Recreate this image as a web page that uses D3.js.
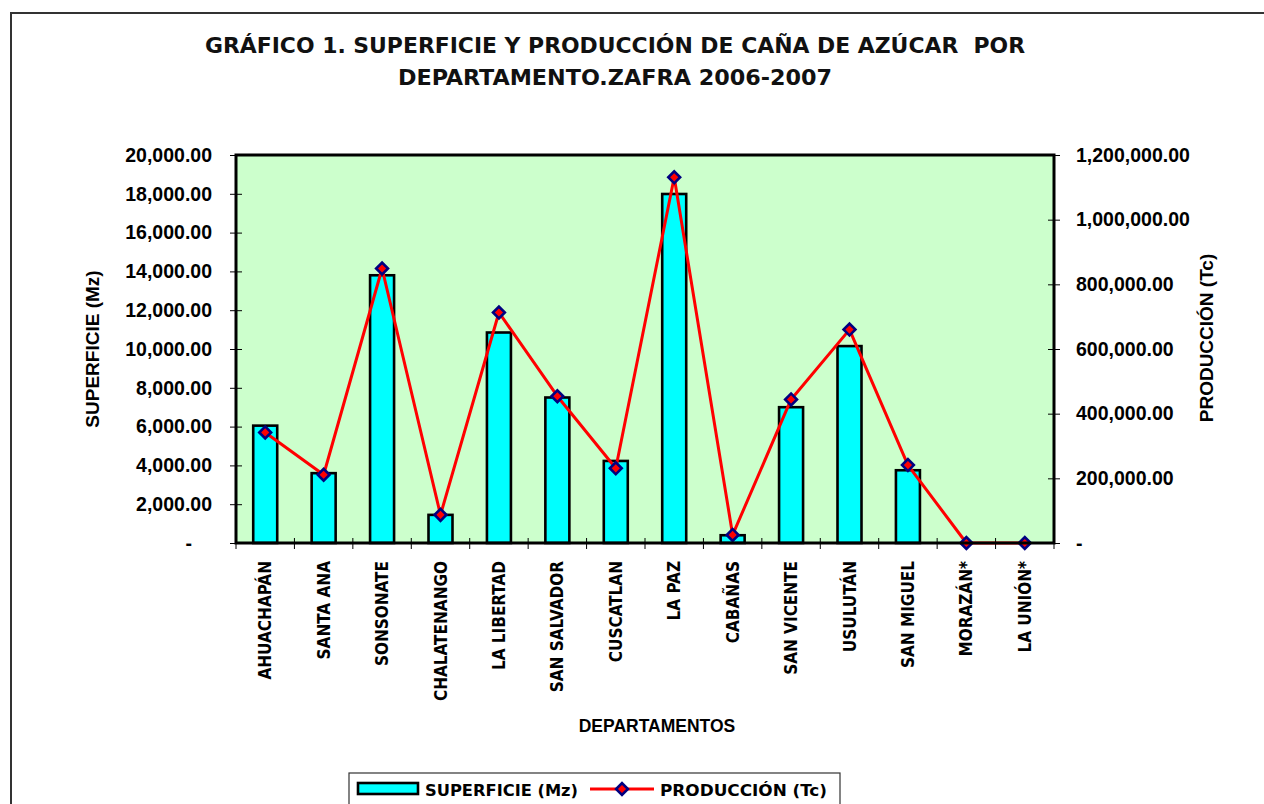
<!DOCTYPE html>
<html lang="es">
<head>
<meta charset="utf-8">
<title>superficie y produccion de cana</title>
<script src="https://d3js.org/d3.v7.min.js"></script>
<style>
body{margin:0;background:#fff;}
svg{display:block;}
</style>
</head>
<body>
<script>
const departamentos = ["AHUACHAPÁN","SANTA ANA","SONSONATE","CHALATENANGO","LA LIBERTAD","SAN SALVADOR","CUSCATLAN","LA PAZ","CABAÑAS","SAN VICENTE","USULUTÁN","SAN MIGUEL","MORAZÁN*","LA UNIÓN*"];
const superficie = [6050, 3600, 13800, 1450, 10850, 7500, 4230, 17990, 400, 7000, 10150, 3750, 0, 0];
const produccion = [342000, 211000, 849000, 87000, 713000, 454000, 231000, 1131000, 25000, 444000, 660000, 241000, 0, 0];
const supTicks = [0, 2000, 4000, 6000, 8000, 10000, 12000, 14000, 16000, 18000, 20000];
const prodTicks = [0, 200000, 400000, 600000, 800000, 1000000, 1200000];
const titleLines = ["GRÁFICO 1. SUPERFICIE Y PRODUCCIÓN DE CAÑA DE AZÚCAR  POR", "DEPARTAMENTO.ZAFRA 2006-2007"];

const W = 1264, H = 804;
const pLeft = 236, pRight = 1054, pTop = 155, pBottom = 543;
const arial = "'Liberation Sans', Arial, sans-serif";
const tahoma = "'DejaVu Sans Condensed', 'DejaVu Sans', sans-serif";

let svg = d3.select("body").append("svg").attr("width", W).attr("height", H);

// outer chart frame (runs past the window)
svg.append("rect").attr("x", 11).attr("y", 13).attr("width", 1400).attr("height", 1000)
  .attr("fill", "#fff").attr("stroke", "#333").attr("stroke-width", 2);

// title
titleLines.forEach((t, i) => {
  svg.append("text").attr("x", 615).attr("y", 53 + i * 32)
    .attr("text-anchor", "middle").style("white-space", "pre")
    .attr("font-family", tahoma).attr("font-weight", "bold").attr("font-size", 21)
    .attr("textLength", i == 0 ? 820 : 434).attr("lengthAdjust", "spacingAndGlyphs")
    .attr("fill", "#111").text(t);
});

let x = d3.scaleBand().domain(departamentos).range([pLeft, pRight]);
let yL = d3.scaleLinear().domain([0, 20000]).range([pBottom, pTop]);
let yR = d3.scaleLinear().domain([0, 1200000]).range([pBottom, pTop]);

const fmt = d => d == 0 ? "-" : d3.format(",.2f")(d);

// plot area
svg.append("rect").attr("x", pLeft).attr("y", pTop).attr("width", pRight - pLeft).attr("height", pBottom - pTop)
  .attr("fill", "#CCFFCC");

// bars
const bw = 24;
svg.append("g").selectAll("rect").data(departamentos).join("rect")
  .attr("x", d => x(d) + x.bandwidth() / 2 - bw / 2)
  .attr("y", (d, i) => yL(superficie[i]))
  .attr("width", bw)
  .attr("height", (d, i) => pBottom - yL(superficie[i]))
  .attr("fill", "#00FFFF").attr("stroke", "#000").attr("stroke-width", 2.6);

// production line
let line = d3.line()
  .x((d, i) => x(departamentos[i]) + x.bandwidth() / 2)
  .y(d => yR(d));

svg.append("path").datum(produccion).attr("d", line)
  .attr("fill", "none").attr("stroke", "#FF0000").attr("stroke-width", 3)
  .attr("stroke-linejoin", "round");

const diamond = d3.symbol(d3.symbolSquare, 70);
svg.append("g").selectAll("path").data(produccion).join("path")
  .attr("d", diamond)
  .attr("transform", (d, i) => "translate(" + (x(departamentos[i]) + x.bandwidth() / 2) + "," + yR(d) + ") rotate(45)")
  .attr("fill", "#FF0000").attr("stroke", "#000080").attr("stroke-width", 2.6);

// plot border
svg.append("rect").attr("x", pLeft).attr("y", pTop).attr("width", pRight - pLeft).attr("height", pBottom - pTop)
  .attr("fill", "none").attr("stroke", "#000").attr("stroke-width", 3);

// left axis
let gL = svg.append("g").attr("transform", "translate(" + pLeft + ",0)")
  .call(d3.axisLeft(yL).tickValues(supTicks).tickFormat(fmt).tickSize(6).tickPadding(18));
gL.select(".domain").remove();
gL.selectAll(".tick line").attr("x1", 6).attr("stroke", "#000");
gL.selectAll(".tick text").attr("font-family", arial).attr("font-weight", "bold").attr("font-size", 19.5)
  .attr("fill", "#000").attr("dx", d => d == 0 ? -20 : 0);

// right axis
let gR = svg.append("g").attr("transform", "translate(" + pRight + ",0)")
  .call(d3.axisRight(yR).tickValues(prodTicks).tickFormat(fmt).tickSize(6).tickPadding(16));
gR.select(".domain").remove();
gR.selectAll(".tick line").attr("x1", -6).attr("stroke", "#000");
gR.selectAll(".tick text").attr("font-family", arial).attr("font-weight", "bold").attr("font-size", 19.5)
  .attr("fill", "#000");

// category boundary ticks
let bounds = departamentos.map(d => x(d)).concat([pRight]);
svg.append("g").selectAll("line").data(bounds).join("line")
  .attr("x1", d => d).attr("x2", d => d).attr("y1", pBottom - 5).attr("y2", pBottom + 6)
  .attr("stroke", "#000").attr("stroke-width", 1);

// category labels
svg.append("g").selectAll("text").data(departamentos).join("text")
  .attr("transform", d => "translate(" + (x(d) + x.bandwidth() / 2) + "," + 561 + ") rotate(-90)")
  .attr("text-anchor", "end").attr("dominant-baseline", "central")
  .attr("font-family", tahoma).attr("font-weight", "bold").attr("font-size", 17)
  .attr("fill", "#000").text(d => d);

// axis titles
svg.append("text").attr("x", 657).attr("y", 732).attr("text-anchor", "middle")
  .attr("font-family", arial).attr("font-weight", "bold").attr("font-size", 17.5).text("DEPARTAMENTOS");
svg.append("text").attr("transform", "translate(92,349) rotate(-90)").attr("text-anchor", "middle")
  .attr("dominant-baseline", "central")
  .attr("font-family", arial).attr("font-weight", "bold").attr("font-size", 19).text("SUPERFICIE (Mz)");
svg.append("text").attr("transform", "translate(1206,338) rotate(-90)").attr("text-anchor", "middle")
  .attr("dominant-baseline", "central")
  .attr("font-family", arial).attr("font-weight", "bold").attr("font-size", 19).text("PRODUCCIÓN (Tc)");

// legend
let lg = svg.append("g");
lg.append("rect").attr("x", 349).attr("y", 773).attr("width", 491).attr("height", 60)
  .attr("fill", "#fff").attr("stroke", "#333").attr("stroke-width", 1.2);
lg.append("rect").attr("x", 358).attr("y", 783).attr("width", 60).attr("height", 11)
  .attr("fill", "#00FFFF").attr("stroke", "#000").attr("stroke-width", 2.6);
lg.append("text").attr("x", 425).attr("y", 796).attr("font-family", tahoma).attr("font-weight", "bold")
  .attr("font-size", 16).attr("textLength", 153).attr("lengthAdjust", "spacingAndGlyphs").text("SUPERFICIE (Mz)");
lg.append("line").attr("x1", 590).attr("x2", 654).attr("y1", 789).attr("y2", 789)
  .attr("stroke", "#FF0000").attr("stroke-width", 3);
lg.append("path").attr("d", diamond).attr("transform", "translate(622,789) rotate(45)")
  .attr("fill", "#FF0000").attr("stroke", "#000080").attr("stroke-width", 2.6);
lg.append("text").attr("x", 660).attr("y", 796).attr("font-family", tahoma).attr("font-weight", "bold")
  .attr("font-size", 16).attr("textLength", 167).attr("lengthAdjust", "spacingAndGlyphs").text("PRODUCCIÓN (Tc)");
</script>
</body>
</html>
